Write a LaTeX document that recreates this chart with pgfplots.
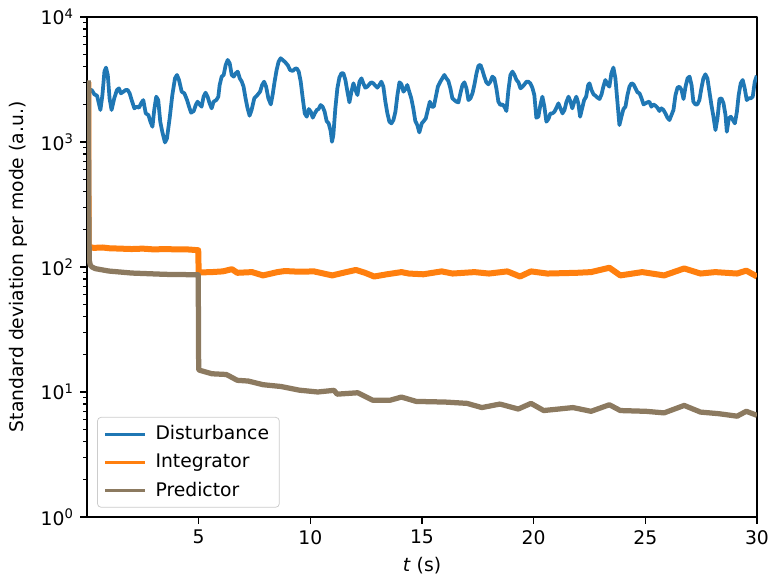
\documentclass[border=0pt]{standalone}
\usepackage{fontspec}
\setmainfont{DejaVu Sans}
\usepackage{pgfplots}
\usepackage{pgfplotstable}
\pgfplotsset{compat=1.18}
\definecolor{mplblue}{HTML}{1F77B4}
\definecolor{mplorange}{HTML}{FF7F0E}
\definecolor{mplbrown}{RGB}{140,122,96}

\pgfplotstableread{
x y
0.04 2600
0.21 2600
0.33 2400
0.45 2340
0.60 1800
0.69 2370
0.78 3650
0.85 3930
0.93 3430
1.01 2230
1.10 1800
1.22 2230
1.34 2600
1.43 2680
1.52 2445
1.63 2520
1.73 2600
1.82 2600
1.91 2445
2.00 2160
2.12 1855
2.22 1912
2.33 1877
2.42 2033
2.52 2160
2.63 1690
2.75 1640
2.84 1450
2.93 1322
3.01 1800
3.10 2299
3.19 2160
3.28 1450
3.37 1205
3.49 990
3.58 1066
3.70 1542
3.82 2370
3.94 3225
4.03 3430
4.12 3126
4.24 2520
4.36 2445
4.48 2160
4.57 1912
4.66 1712
4.78 1766
4.87 1971
4.95 2097
5.04 1995
5.13 1912
5.22 2299
5.31 2475
5.40 2299
5.49 2033
5.58 1855
5.67 2097
5.79 2160
5.88 2299
5.94 2851
6.03 3327
6.12 3430
6.21 4125
6.30 4523
6.39 4253
6.48 3430
6.57 3327
6.66 3537
6.75 3650
6.84 3225
6.93 3033
7.01 2765
7.10 2230
7.19 1855
7.28 1620
7.37 1800
7.49 2230
7.63 2370
7.75 2520
7.84 2850
7.93 3030
8.02 2765
8.12 2230
8.23 1995
8.31 2370
8.40 3030
8.49 3762
8.58 4385
8.67 4665
8.76 4523
8.88 4331
9.00 4074
9.09 3762
9.21 3693
9.30 3831
9.39 3878
9.48 3650
9.57 3030
9.66 2230
9.75 1690
9.84 1590
9.93 1831
10.02 1743
10.11 1561
10.20 1690
10.29 1800
10.37 1831
10.46 1971
10.55 1912
10.64 1743
10.73 1468
10.82 1406
10.91 1221
10.97 1002
11.03 1133
11.12 1855
11.21 2680
11.30 3265
11.39 3537
11.48 3537
11.57 3126
11.66 2520
11.75 2071
11.84 2520
11.93 2941
12.02 2600
12.11 2370
12.20 3030
12.29 3225
12.37 2941
12.46 2715
12.55 2765
12.64 2887
12.73 2996
12.82 2941
12.91 2817
13.00 2715
13.09 2850
13.18 3030
13.27 2765
13.36 2097
13.45 1690
13.54 1450
13.63 1406
13.72 1495
13.81 1743
13.90 2370
13.99 2996
14.08 2887
14.17 2520
14.26 2649
14.34 2850
14.43 2520
14.52 2230
14.61 1855
14.70 1468
14.79 1363
14.88 1191
14.99 1406
15.08 1468
15.17 1542
15.26 1800
15.35 2097
15.44 1912
15.53 1912
15.62 2299
15.71 2765
15.82 3030
15.91 3225
16.00 3430
16.09 3225
16.18 3070
16.27 2680
16.36 2230
16.45 2160
16.54 2097
16.63 2071
16.72 2445
16.81 2850
16.90 2996
16.99 2680
17.08 2160
17.17 2230
17.26 2445
17.35 2887
17.44 3537
17.53 4074
17.62 4125
17.70 3762
17.79 3327
17.88 2996
17.97 2887
18.06 3030
18.15 3327
18.24 3225
18.33 2680
18.42 2097
18.51 1971
18.60 1995
18.69 1912
18.78 1766
18.87 2600
18.96 3430
19.05 3650
19.14 3430
19.23 3126
19.32 2996
19.41 2680
19.50 2765
19.59 2887
19.68 3030
19.76 3030
19.85 2941
19.94 2715
20.03 2370
20.12 1561
20.21 1590
20.30 1971
20.39 2299
20.48 1912
20.57 1450
20.66 1523
20.75 1690
20.84 1690
20.93 1743
21.02 1877
21.11 2033
21.20 1855
21.29 1690
21.38 1800
21.47 2097
21.56 2299
21.65 2097
21.73 1855
21.82 2097
21.91 2299
22.00 2033
22.08 1590
22.17 1855
22.26 2160
22.35 2299
22.44 2850
22.50 2941
22.59 2600
22.68 2400
22.77 2340
22.86 2257
22.95 2202
23.04 2400
23.12 2765
23.21 3126
23.30 2887
23.39 2765
23.48 3537
23.57 3930
23.66 3225
23.75 2097
23.84 1363
23.93 1590
24.02 1831
24.11 1912
24.20 2370
24.29 2765
24.38 2941
24.47 2887
24.56 2680
24.65 2490
24.74 2445
24.83 2230
24.92 1995
25.01 2033
25.09 2071
25.18 2097
25.27 1912
25.36 1995
25.45 1947
25.54 1877
25.63 1766
25.72 1855
25.81 1800
25.90 1690
25.99 1561
26.08 1495
26.17 1640
26.26 1800
26.35 2370
26.44 2715
26.53 2765
26.62 2600
26.71 2202
26.80 2765
26.89 3225
26.98 3327
27.07 2850
27.15 2097
27.24 1995
27.33 1995
27.42 2160
27.51 2680
27.60 3225
27.69 3472
27.78 3225
27.87 2520
27.96 1971
28.05 1590
28.14 1243
28.23 1542
28.32 2202
28.41 2230
28.50 2033
28.59 1640
28.65 1205
28.74 1542
28.83 1590
28.92 1495
29.01 1406
29.10 1743
29.18 2370
29.27 2941
29.36 3126
29.45 2680
29.54 2160
29.63 2230
29.72 2230
29.81 2299
29.90 3030
29.99 3388
}\disturbance

\pgfplotstableread{
x y
0.06 3000
0.07 145
0.30 142
0.70 143
1.00 141
1.50 140
2.00 139
2.50 140
3.00 138
3.50 139
4.00 138
4.50 138
4.98 136
5.00 92
5.02 90.3
5.59 90.9
6.08 92.1
6.49 95.9
6.73 89.7
7.39 90.9
7.88 85.5
8.53 90.9
8.86 92.7
9.51 91.5
10.16 92.1
10.98 85.5
11.47 89.7
12.04 94.6
12.45 89.7
12.86 83.8
13.43 87.3
14.08 90.9
14.41 88.5
15.06 87.3
15.88 92.1
16.37 88.5
17.35 90.9
18.00 88.5
18.82 92.1
19.39 83.8
19.88 92.1
20.61 88.5
21.92 89.7
22.57 90.9
23.39 98.5
23.88 85.5
24.86 90.9
25.51 87.3
25.84 85.5
26.74 97.2
27.47 88.5
28.13 90.9
29.11 88.5
29.52 93.4
30.00 83.8
}\integrator

\pgfplotstableread{
x y
0.06 3100
0.08 300
0.10 113
0.15 103
0.22 100
0.37 96.9
0.97 92.7
2.01 89.3
3.51 87.2
4.98 86.5
5.00 15.3
5.02 14.95
5.59 13.98
6.24 13.79
6.73 12.39
7.22 12.22
7.88 11.43
8.69 11.05
9.51 10.33
10.33 9.99
11.06 10.3
11.20 9.6
12.12 9.85
12.78 8.6
13.59 8.6
14.08 9.1
14.74 8.4
16.04 8.3
17.02 8.1
17.68 7.5
18.49 8.0
19.31 7.3
19.88 8.1
20.45 7.1
21.76 7.5
22.57 7.0
23.39 7.9
23.88 7.1
25.03 7.0
25.84 6.8
26.74 7.8
27.47 6.9
28.29 6.7
29.11 6.4
29.52 7.0
30.00 6.5
}\predictor

\begin{document}
\begin{tikzpicture}
\begin{axis}[
  at={(0,0)}, anchor=south west,
  scale only axis, width=357.3pt, height=266.7pt,
  xmin=0, xmax=30, ymode=log, ymin=1, ymax=10000,
  xtick={5,10,15,20,25,30},
  ytick={1,10,100,1000,10000},
  yticklabels={10\textsuperscript{0},10\textsuperscript{1},10\textsuperscript{2},10\textsuperscript{3},10\textsuperscript{4}},
  /pgf/number format/assume math mode=true,
  tick align=outside, tick pos=left,
  major tick length=3.5pt, minor tick length=2pt,
  major tick style={line width=0.8pt, black},
  minor tick style={line width=0.6pt, black},
  axis line style={line width=0.8pt},
  tick label style={font=\fontsize{10}{12}\selectfont},
  label style={font=\fontsize{10}{12}\selectfont},
  xlabel={\textit{t} (s)},
  ylabel={Standard deviation per mode (a.u.)},
  legend cell align=left,
  legend style={at={(axis description cs:0.015,0.0186)}, anchor=south west,
    draw=black!20, rounded corners=2pt, fill=white, fill opacity=0.8, text opacity=1,
    font=\fontsize{10}{12}\selectfont, inner xsep=3.5pt, inner ysep=2.5pt, row sep=2pt,
    column sep=3pt},
  legend image code/.code={\draw[#1] (0pt,0pt) -- (21pt,0pt);},
  legend image post style={line width=1.5pt},
  line join=round,
]
\addplot[mplblue, line width=2pt] table[x=x,y=y] {\disturbance};
\addlegendentry{Disturbance}
\addplot[mplorange, line width=3.2pt] table[x=x,y=y] {\integrator};
\addlegendentry{Integrator}
\addplot[mplbrown, line width=2.8pt] table[x=x,y=y] {\predictor};
\addlegendentry{Predictor}
\end{axis}
\pgfresetboundingbox
\path[use as bounding box] (-46.4pt,-33.6pt) rectangle (363.7pt,275.7pt);
\end{tikzpicture}
\end{document}
